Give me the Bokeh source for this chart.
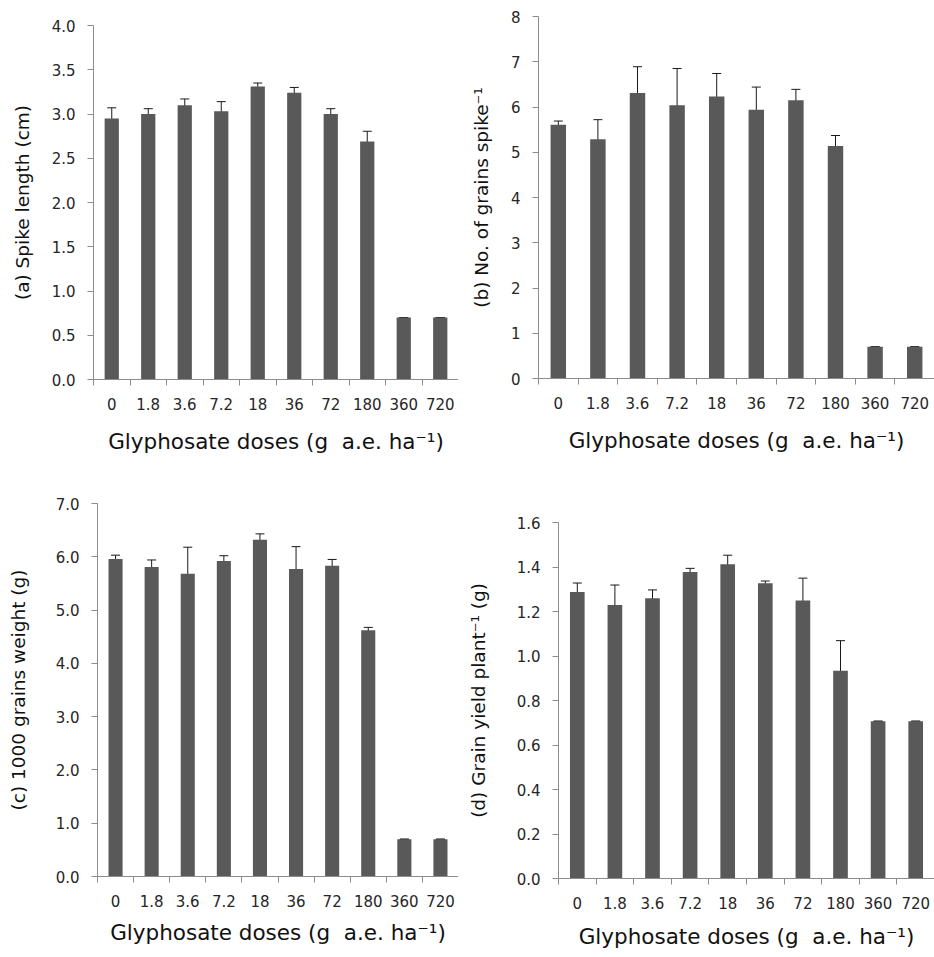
from bokeh.plotting import figure
from bokeh.models import ColumnDataSource, FixedTicker, Whisker, TeeHead, Range1d
from bokeh.layouts import column, row
from bokeh.embed import file_html
from bokeh.resources import INLINE

doses = ["0", "1.8", "3.6", "7.2", "18", "36", "72", "180", "360", "720"]

spike_length = [2.95, 3.00, 3.10, 3.03, 3.31, 3.24, 3.00, 2.69, 0.70, 0.70]
spike_length_err = [0.12, 0.06, 0.07, 0.11, 0.04, 0.06, 0.06, 0.115, 0.0, 0.0]

grains_spike = [5.61, 5.29, 6.31, 6.04, 6.23, 5.94, 6.15, 5.14, 0.70, 0.70]
grains_spike_err = [0.08, 0.43, 0.58, 0.81, 0.51, 0.50, 0.24, 0.23, 0.0, 0.0]

grain_weight = [5.96, 5.81, 5.68, 5.92, 6.32, 5.77, 5.83, 4.62, 0.70, 0.70]
grain_weight_err = [0.07, 0.13, 0.50, 0.10, 0.11, 0.42, 0.12, 0.055, 0.0, 0.0]

grain_yield = [1.288, 1.229, 1.259, 1.378, 1.412, 1.327, 1.250, 0.934, 0.707, 0.707]
grain_yield_err = [0.04, 0.09, 0.038, 0.016, 0.041, 0.01, 0.10, 0.135, 0.0, 0.0]

ticks_a = [0.0, 0.5, 1.0, 1.5, 2.0, 2.5, 3.0, 3.5, 4.0]
ticks_b = [0, 1, 2, 3, 4, 5, 6, 7, 8]
ticks_c = [0.0, 1.0, 2.0, 3.0, 4.0, 5.0, 6.0, 7.0]
ticks_d = [0.0, 0.2, 0.4, 0.6, 0.8, 1.0, 1.2, 1.4, 1.6]

x_title = "Glyphosate doses (g\u00a0 a.e. ha\u207b\u00b9)"
title_a = "(a) Spike length (cm)"
title_b = "(b) No. of grains spike\u207b\u00b9"
title_c = "(c) 1000 grains weight (g)"
title_d = "(d) Grain yield plant\u207b\u00b9 (g)"

FONT = "DejaVu Sans"
AXIS_COL = "#8c8c8c"
BAR_COL = "#595959"
TXT = "#262626"


def panel(vals, errs, yticks, fmt, ytitle, fw, fh, left, top, bottom,
          ylab_standoff, xlab_standoff):
    n = len(doses)
    xs = list(range(n))
    src = ColumnDataSource(dict(
        x=xs, top=vals,
        upper=[v + e for v, e in zip(vals, errs)],
        lower=[v - e for v, e in zip(vals, errs)],
    ))
    p = figure(frame_width=fw, frame_height=fh,
               x_range=Range1d(-0.5, n - 0.5),
               y_range=Range1d(yticks[0], yticks[-1]),
               output_backend="svg", toolbar_location=None,
               min_border_left=left, min_border_right=0,
               min_border_top=top, min_border_bottom=bottom)
    p.frame_align = False
    p.outline_line_color = None
    p.xgrid.visible = False
    p.ygrid.visible = False
    p.background_fill_color = "white"
    p.border_fill_color = "white"

    p.vbar(x="x", top="top", width=0.39, bottom=0, source=src,
           fill_color=BAR_COL, line_color=None)
    w = Whisker(base="x", upper="upper", lower="lower", source=src,
                line_color="#1a1a1a", line_width=1,
                upper_head=TeeHead(size=9, line_color="#1a1a1a", line_width=1),
                lower_head=TeeHead(size=9, line_color="#1a1a1a", line_width=1))
    p.add_layout(w)

    xa = p.xaxis[0]
    xa.ticker = FixedTicker(ticks=xs, minor_ticks=[i - 0.5 for i in range(n + 1)])
    xa.major_label_overrides = {i: d for i, d in enumerate(doses)}
    xa.major_tick_out = 0
    xa.major_tick_in = 0
    xa.minor_tick_out = 6
    xa.minor_tick_in = 0
    xa.axis_line_color = AXIS_COL
    xa.minor_tick_line_color = AXIS_COL
    xa.major_label_text_font = FONT
    xa.major_label_text_font_size = "15px"
    xa.major_label_text_color = TXT
    xa.major_label_standoff = 12
    xa.axis_label = x_title
    xa.axis_label_text_font = FONT
    xa.axis_label_text_font_size = "21.5px"
    xa.axis_label_text_font_style = "normal"
    xa.axis_label_text_color = "#111111"
    xa.axis_label_standoff = xlab_standoff

    ya = p.yaxis[0]
    ya.ticker = FixedTicker(ticks=yticks, minor_ticks=[])
    ya.major_label_overrides = {t: fmt.format(t) for t in yticks}
    ya.major_tick_out = 6
    ya.major_tick_in = 0
    ya.axis_line_color = AXIS_COL
    ya.major_tick_line_color = AXIS_COL
    ya.major_label_text_font = FONT
    ya.major_label_text_font_size = "15px"
    ya.major_label_text_color = TXT
    ya.major_label_standoff = 12
    ya.axis_label = ytitle
    ya.axis_label_text_font = FONT
    ya.axis_label_text_font_size = "18.5px"
    ya.axis_label_text_font_style = "normal"
    ya.axis_label_text_color = "#111111"
    ya.axis_label_standoff = ylab_standoff
    return p


pa = panel(spike_length, spike_length_err, ticks_a, "{:.1f}", title_a,
           365, 354, 93, 25, 91, 16, 16)
pb = panel(grains_spike, grains_spike_err, ticks_b, "{:d}", title_b,
           396, 362, 80, 16, 92, 16, 16)
pc = panel(grain_weight, grain_weight_err, ticks_c, "{:.1f}", title_c,
           361, 373, 97, 33, 80, 24, 10)
pd = panel(grain_yield, grain_yield_err, ticks_d, "{:.1f}", title_d,
           376, 356, 100, 52, 78, 25, 12)

layout = column(row(pa, pb), row(pc, pd))

with open("out.html", "w") as f:
    f.write(file_html(layout, INLINE))
